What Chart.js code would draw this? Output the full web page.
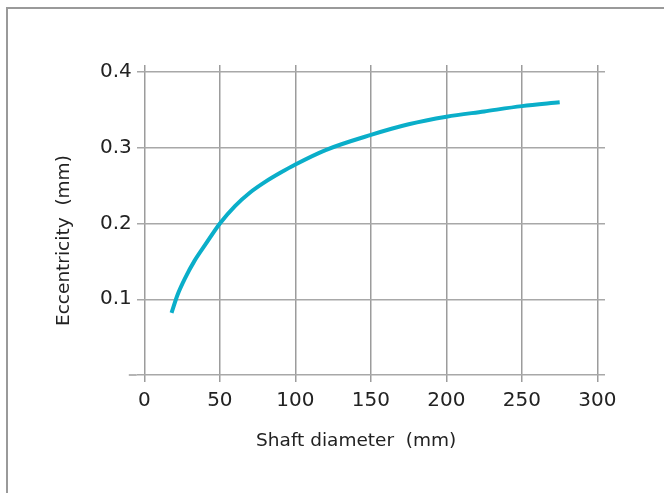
<!DOCTYPE html>
<html>
<head>
<meta charset="utf-8">
<script src="https://cdn.jsdelivr.net/npm/chart.js@4.4.0/dist/chart.umd.min.js"></script>
<style>
  body { margin: 0; background: #fff; }
  #wrap { position: relative; width: 664px; height: 493px; overflow: hidden; }
  #frame { position: absolute; left: 6px; top: 7px; width: 700px; height: 600px;
           border-left: 2px solid #9a9a9a; border-top: 2px solid #9a9a9a; }
  canvas { position: absolute; left: 0; top: 0; }
</style>
</head>
<body>
<div id="wrap">
  <div id="frame"></div>
  <canvas id="myChart" width="664" height="493"></canvas>
</div>
<script>
// shaft diameter (mm) vs eccentricity (mm)
let diameters = [18, 22, 27, 33, 40, 50, 60, 70, 80, 90, 100, 120, 150, 175, 200, 225, 250, 275];
let eccentricity = [0.082, 0.106, 0.128, 0.15, 0.171, 0.2, 0.223, 0.241, 0.255, 0.267, 0.278, 0.297, 0.317, 0.331, 0.341, 0.348, 0.355, 0.36];
let xTicks = [0, 50, 100, 150, 200, 250, 300];
let yTicks = [0, 0.1, 0.2, 0.3, 0.4];

const gridGray = "#9c9c9c";

// the y=0 line sticks out a little to the left of the other grid lines
const zeroLineExt = {
  id: "zeroLineExt",
  afterDraw(chart) {
    const ctx = chart.ctx;
    const y = chart.scales.y.getPixelForValue(0);
    const x0 = chart.chartArea.left;
    ctx.save();
    ctx.strokeStyle = gridGray;
    ctx.lineWidth = 1.5;
    ctx.beginPath();
    ctx.moveTo(x0 - 8, y);
    ctx.lineTo(x0, y);
    ctx.stroke();
    ctx.restore();
  },
};

let ctx = document.getElementById("myChart").getContext("2d");
let myChart = new Chart(ctx, {
  type: "line",
  data: {
    datasets: [
      {
        data: diameters.map((d, i) => ({ x: d, y: eccentricity[i] })),
        borderColor: "#0aaec9",
        borderWidth: 4,
        pointRadius: 0,
        cubicInterpolationMode: "monotone",
        fill: false,
      },
    ],
  },
  options: {
    responsive: false,
    animation: false,
    layout: { padding: { left: 0, top: 65, right: 59, bottom: 0 } },
    plugins: { legend: { display: false }, tooltip: { enabled: false } },
    scales: {
      x: {
        type: "linear",
        min: -5,
        max: 305,
        afterBuildTicks: (axis) => { axis.ticks = xTicks.map((v) => ({ value: v })); },
        afterFit: (axis) => { axis.height = 118; },
        border: { display: false },
        grid: { color: gridGray, lineWidth: 1.5, tickLength: 7, tickColor: gridGray },
        ticks: {
          color: "#222",
          font: { family: "DejaVu Sans", size: 20 },
          padding: 7,
          maxRotation: 0,
        },
        title: {
          display: true,
          text: "Shaft diameter  (mm)     ",
          color: "#222",
          font: { family: "DejaVu Sans", size: 18.5 },
          padding: { top: 0, bottom: 41 },
        },
      },
      y: {
        type: "linear",
        min: 0,
        max: 0.4093,
        afterBuildTicks: (axis) => { axis.ticks = yTicks.map((v) => ({ value: v })); },
        afterFit: (axis) => { axis.width = 136.8; },
        border: { display: false },
        grid: { color: "#a8a8a8", lineWidth: 1.5, drawTicks: false },
        ticks: {
          color: "#222",
          font: { family: "DejaVu Sans", size: 20 },
          padding: 5,
          callback: (v) => (v === 0 ? "" : v.toFixed(1)),
        },
        title: {
          display: true,
          text: "Eccentricity  (mm)       ",
          color: "#222",
          font: { family: "DejaVu Sans", size: 18.5 },
          padding: { top: 53, bottom: 0 },
        },
      },
    },
  },
  plugins: [zeroLineExt],
});
</script>
</body>
</html>
